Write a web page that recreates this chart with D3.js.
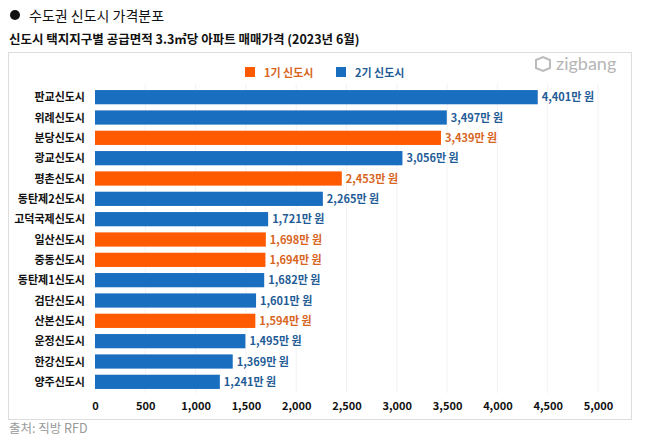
<!DOCTYPE html>
<html><head><meta charset="utf-8">
<script src="https://cdn.jsdelivr.net/npm/d3@7"></script>
<style>body{margin:0;background:#fff;font-family:"Noto Sans CJK KR","Noto Sans",sans-serif;}</style>
</head><body>
<svg id="c" width="658" height="436"></svg>
<script>
const categories = ["판교신도시","위례신도시","분당신도시","광교신도시","평촌신도시","동탄제2신도시","고덕국제신도시","일산신도시","중동신도시","동탄제1신도시","검단신도시","산본신도시","운정신도시","한강신도시","양주신도시"];
const values = [4401,3497,3439,3056,2453,2265,1721,1698,1694,1682,1601,1594,1495,1369,1241];
const generation = ["2기","2기","1기","2기","1기","2기","2기","1기","1기","2기","2기","1기","2기","2기","2기"];
const seriesNames = ["1기 신도시","2기 신도시"];
const tickValues = [0,500,1000,1500,2000,2500,3000,3500,4000,4500,5000];

const colors = {"1기":"#ff5a00","2기":"#1a6ebf"};
const labelColors = {"1기":"#d8651e","2기":"#1f5c96"};

const svg = d3.select("#c");
const font = '"Noto Sans CJK KR","Noto Sans",sans-serif';

// Titles
svg.append("circle").attr("cx",15).attr("cy",15).attr("r",5).attr("fill","#111");
svg.append("text").attr("x",29).attr("y",20.5).attr("font-size",14).attr("fill","#111").attr("font-family",font).text("수도권 신도시 가격분포");
svg.append("text").attr("x",9).attr("y",44).attr("font-size",12.5).attr("font-weight","bold").attr("fill","#111").attr("font-family",font).text("신도시 택지지구별 공급면적 3.3㎡당 아파트 매매가격 (2023년 6월)");

// Box
svg.append("rect").attr("x",8.5).attr("y",52.5).attr("width",623).attr("height",367).attr("fill","#fff").attr("stroke","#ddd");

const x = d3.scaleLinear().domain([0,5000]).range([95,598]);
const y = d3.scaleBand().domain(categories).range([87,392]).paddingInner(0.3).paddingOuter(0.15);

// Grid
svg.append("g").selectAll("line").data(tickValues.slice(1)).join("line")
  .attr("x1",d=>x(d)).attr("x2",d=>x(d)).attr("y1",84).attr("y2",393)
  .attr("stroke","#f2f2f2").attr("stroke-width",1);

// Bars
svg.append("g").selectAll("rect").data(categories).join("rect")
  .attr("x",x(0)).attr("y",d=>y(d)).attr("height",y.bandwidth())
  .attr("width",(d,i)=>x(values[i])-x(0))
  .attr("fill",(d,i)=>colors[generation[i]]);

// Value labels
svg.append("g").selectAll("text").data(categories).join("text")
  .attr("x",(d,i)=>x(values[i])+4).attr("y",d=>y(d)+y.bandwidth()/2+4)
  .attr("font-size",11).attr("font-weight","bold").attr("font-family",font)
  .attr("fill",(d,i)=>labelColors[generation[i]])
  .text((d,i)=>d3.format(",")(values[i])+"만 원");

// Y axis labels
svg.append("g").selectAll("text").data(categories).join("text")
  .attr("x",85).attr("y",d=>y(d)+y.bandwidth()/2+4).attr("text-anchor","end")
  .attr("font-size",11).attr("font-weight","bold").attr("fill","#111").attr("font-family",font)
  .text(d=>d);

// X axis
const xAxis = d3.axisBottom(x).tickValues(tickValues).tickFormat(d3.format(",")).tickSize(0);
const gx = svg.append("g").attr("transform","translate(0,398)").call(xAxis);
gx.select(".domain").remove();
gx.selectAll("text").attr("font-size",11).attr("font-weight","bold").attr("fill","#111").attr("font-family",font).attr("dy","0.8em");

// Legend
const legend = svg.append("g");
const lx = [245,336];
seriesNames.forEach((s,i)=>{
  const key = i===0?"1기":"2기";
  legend.append("rect").attr("x",lx[i]).attr("y",67).attr("width",10).attr("height",10).attr("fill",colors[key]);
  legend.append("text").attr("x",lx[i]+19).attr("y",76.5).attr("font-size",11).attr("font-weight","bold")
    .attr("fill",labelColors[key]).attr("font-family",font).text(s);
});

// zigbang logo
const lg = svg.append("g").attr("transform","translate(536,64)");
lg.append("path").attr("d","M0,-4 L7,-7 L14,-4 L14,4 L7,7 L0,4 Z").attr("fill","none").attr("stroke","#bbb").attr("stroke-width",2);
svg.append("text").attr("x",556).attr("y",70).attr("font-size",18).attr("fill","#b5b5b5").attr("font-family","Lato, 'Open Sans', sans-serif").text("zigbang");

// Source
svg.append("text").attr("x",9).attr("y",433).attr("font-size",12.5).attr("fill","#999").attr("font-family",font).text("출처: 직방 RFD");
</script>
</body></html>
